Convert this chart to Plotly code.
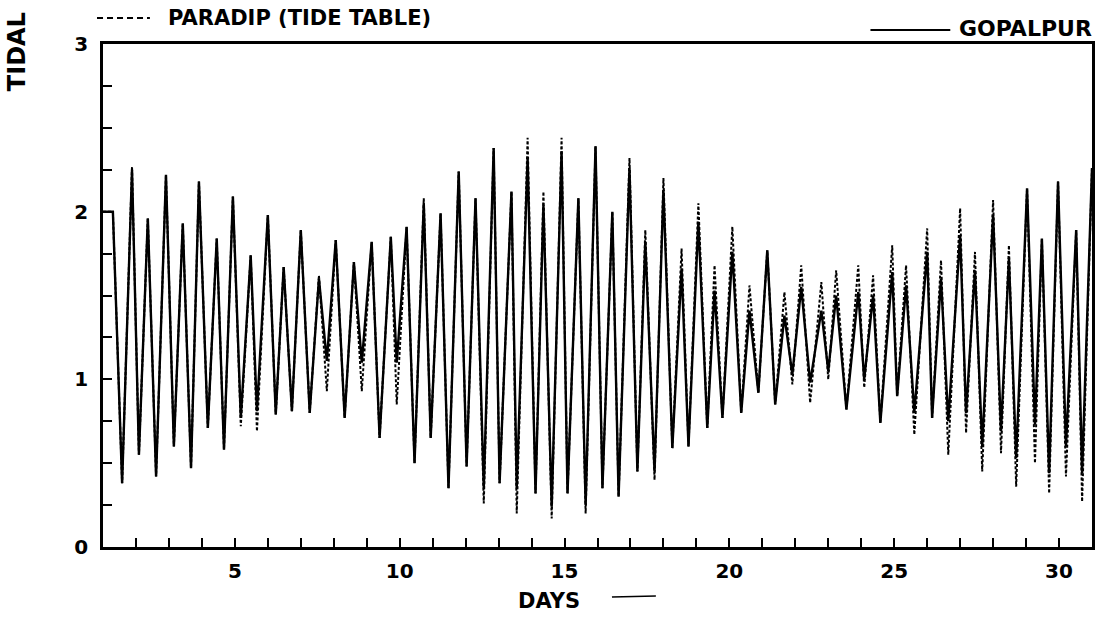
import plotly.graph_objects as go

# ---- data ----
days = [1.00, 1.30, 1.58, 1.88, 2.09, 2.36, 2.61, 2.91, 3.15, 3.42,
        3.67, 3.91, 4.18, 4.45, 4.67, 4.94, 5.18, 5.48, 5.67, 6.00,
        6.24, 6.48, 6.73, 7.00, 7.27, 7.55, 7.79, 8.06, 8.33, 8.61,
        8.85, 9.15, 9.39, 9.73, 9.91, 10.21, 10.45, 10.73, 10.94, 11.24,
        11.48, 11.79, 12.03, 12.30, 12.55, 12.85, 13.03, 13.39, 13.55, 13.88,
        14.12, 14.36, 14.61, 14.91, 15.09, 15.42, 15.64, 15.94, 16.15, 16.45,
        16.64, 16.97, 17.21, 17.45, 17.73, 18.00, 18.27, 18.55, 18.76, 19.06,
        19.33, 19.55, 19.79, 20.09, 20.36, 20.61, 20.88, 21.15, 21.39, 21.67,
        21.91, 22.18, 22.45, 22.79, 23.00, 23.24, 23.55, 23.91, 24.09, 24.36,
        24.58, 24.94, 25.09, 25.36, 25.61, 26.00, 26.15, 26.42, 26.64, 27.00,
        27.18, 27.45, 27.67, 28.00, 28.24, 28.48, 28.70, 29.03, 29.27, 29.48,
        29.70, 29.97, 30.21, 30.52, 30.70, 31.00]

gopalpur = [2.0, 2.0, 0.38, 2.25, 0.55, 1.96, 0.42, 2.22, 0.6, 1.93,
            0.47, 2.18, 0.71, 1.84, 0.58, 2.09, 0.77, 1.74, 0.81, 1.98,
            0.79, 1.67, 0.81, 1.89, 0.8, 1.6, 1.11, 1.83, 0.77, 1.7,
            1.1, 1.82, 0.65, 1.85, 1.1, 1.91, 0.5, 2.05, 0.65, 1.99,
            0.35, 2.24, 0.48, 2.08, 0.35, 2.38, 0.38, 2.12, 0.35, 2.32,
            0.32, 2.04, 0.24, 2.36, 0.32, 2.08, 0.25, 2.39, 0.35, 2.0,
            0.3, 2.26, 0.45, 1.82, 0.45, 2.13, 0.59, 1.66, 0.6, 1.94,
            0.71, 1.53, 0.77, 1.76, 0.8, 1.41, 0.92, 1.77, 0.85, 1.38,
            1.03, 1.55, 0.98, 1.41, 1.05, 1.5, 0.82, 1.52, 1.0, 1.5,
            0.74, 1.64, 0.9, 1.56, 0.8, 1.76, 0.77, 1.6, 0.75, 1.86,
            0.8, 1.65, 0.6, 1.98, 0.69, 1.72, 0.53, 2.14, 0.73, 1.84,
            0.44, 2.18, 0.6, 1.89, 0.44, 2.26]

paradip = [2.0, 2.0, 0.38, 2.27, 0.55, 1.96, 0.42, 2.22, 0.6, 1.93,
           0.47, 2.18, 0.71, 1.84, 0.58, 2.09, 0.72, 1.74, 0.69, 1.98,
           0.79, 1.67, 0.81, 1.89, 0.8, 1.62, 0.93, 1.83, 0.77, 1.7,
           0.93, 1.82, 0.65, 1.85, 0.85, 1.91, 0.5, 2.08, 0.65, 1.99,
           0.35, 2.24, 0.48, 2.08, 0.26, 2.38, 0.38, 2.12, 0.2, 2.44,
           0.32, 2.12, 0.17, 2.44, 0.32, 2.08, 0.2, 2.39, 0.35, 2.0,
           0.3, 2.32, 0.45, 1.89, 0.4, 2.2, 0.59, 1.78, 0.6, 2.05,
           0.71, 1.68, 0.77, 1.91, 0.8, 1.56, 0.92, 1.77, 0.85, 1.52,
           0.97, 1.68, 0.86, 1.58, 1.0, 1.65, 0.82, 1.68, 0.95, 1.62,
           0.74, 1.8, 0.9, 1.68, 0.67, 1.9, 0.77, 1.71, 0.55, 2.02,
           0.68, 1.76, 0.45, 2.07, 0.56, 1.8, 0.36, 2.14, 0.5, 1.84,
           0.32, 2.18, 0.42, 1.89, 0.27, 2.26]

x_tick_vals = list(range(2, 31))
x_labelled = [5, 10, 15, 20, 25, 30]
x_tick_text = [str(d) if d in x_labelled else "" for d in x_tick_vals]
y_tick_vals = [0, 0.25, 0.5, 0.75, 1, 1.25, 1.5, 1.75, 2, 2.25, 2.5, 2.75, 3]
y_tick_text = ["0", "", "", "", "1", "", "", "", "2", "", "", "", "3"]

FONT = "DejaVu Sans"

fig = go.Figure()
fig.add_trace(go.Scatter(x=days, y=paradip, mode="lines", name="PARADIP (TIDE TABLE)",
                         line=dict(color="black", width=2, dash="3px,2px")))
fig.add_trace(go.Scatter(x=days, y=gopalpur, mode="lines", name="GOPALPUR",
                         line=dict(color="black", width=2.4)))

axis_common = dict(showline=True, mirror=True, linecolor="black", linewidth=2.5,
                   ticks="inside", tickcolor="black", tickwidth=2, ticklen=9,
                   showgrid=False, zeroline=False,
                   tickfont=dict(family=FONT, size=20, color="black", weight="bold"))

fig.update_xaxes(range=[1, 31], tickmode="array", tickvals=x_tick_vals,
                 ticktext=x_tick_text, ticklabelstandoff=4, **axis_common)
fig.update_yaxes(range=[0, 3], tickmode="array", tickvals=y_tick_vals,
                 ticktext=y_tick_text, ticklabelstandoff=8, **axis_common)

W, H = 1107, 617
L, R, T, B = 103, 13, 44, 70
pw, ph = W - L - R, H - T - B

def px(xs):
    return (xs - L) / pw

def py(ys):
    return (H - B - ys) / ph

tf = dict(family=FONT, size=21, color="black", weight="bold")

fig.add_annotation(text="TIDAL", xref="paper", yref="paper", x=px(17), y=py(52),
                   textangle=-90, showarrow=False,
                   font=dict(family=FONT, size=24, color="black", weight="bold"),
                   xanchor="center", yanchor="middle")
fig.add_annotation(text="PARADIP (TIDE TABLE)", xref="paper", yref="paper",
                   x=px(166), y=py(18), showarrow=False, font=tf,
                   xanchor="left", yanchor="middle")
fig.add_annotation(text="GOPALPUR", xref="paper", yref="paper",
                   x=px(1096), y=py(29), showarrow=False,
                   font=dict(family=FONT, size=22, color="black", weight="bold"),
                   xanchor="right", yanchor="middle")
fig.add_annotation(text="DAYS", xref="paper", yref="paper",
                   x=px(550), y=py(601), showarrow=False, font=tf,
                   xanchor="center", yanchor="middle")

fig.add_shape(type="line", xref="paper", yref="paper", x0=px(97), x1=px(150),
              y0=py(18), y1=py(18), line=dict(color="black", width=2, dash="6px,4px"))
fig.add_shape(type="line", xref="paper", yref="paper", x0=px(872), x1=px(952),
              y0=py(30), y1=py(30), line=dict(color="black", width=2))
fig.add_shape(type="line", xref="paper", yref="paper", x0=px(613), x1=px(657),
              y0=py(597), y1=py(596), line=dict(color="black", width=1.5))

fig.update_layout(width=W, height=H, margin=dict(l=L, r=R, t=T, b=B),
                  paper_bgcolor="white", plot_bgcolor="white", showlegend=False)

# remove the default page margin so the figure fills the window exactly
fig.write_html("out.html", config={"displayModeBar": False},
               post_script="document.body.style.margin='0';document.body.style.overflow='hidden';")
